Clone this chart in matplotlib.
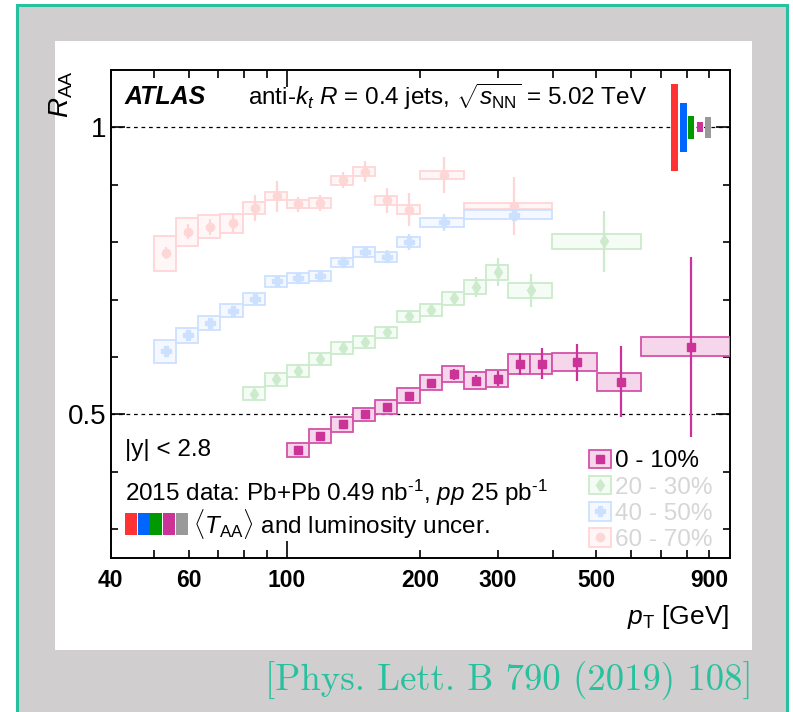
import numpy as np
import matplotlib
matplotlib.use('Agg')
import matplotlib.pyplot as plt
from matplotlib.patches import Rectangle, Patch
from matplotlib.lines import Line2D
from matplotlib.colors import to_rgb
from matplotlib.legend_handler import HandlerTuple

plt.rcParams['font.family'] = ['Liberation Sans', 'DejaVu Sans']
plt.rcParams['mathtext.fontset'] = 'custom'
plt.rcParams['mathtext.rm'] = 'Liberation Sans'
plt.rcParams['mathtext.it'] = 'Liberation Sans:italic'
plt.rcParams['mathtext.bf'] = 'Liberation Sans:bold'

# ---------------- data ----------------
# 0-10 %
pt_c0 = [106, 119, 134, 150, 168, 189, 212, 238, 267, 300, 337, 378, 452, 568, 818]
lo_c0 = [100, 112.2, 125.9, 141.3, 158.5, 177.8, 199.5, 223.9, 251.2, 281.8, 316.2, 354.8, 398.1, 501.2, 631.0]
hi_c0 = [112.2, 125.9, 141.3, 158.5, 177.8, 199.5, 223.9, 251.2, 281.8, 316.2, 354.8, 398.1, 501.2, 631.0, 1000]
raa_c0 = [0.438, 0.462, 0.483, 0.500, 0.513, 0.533, 0.555, 0.570, 0.559, 0.562, 0.588, 0.588, 0.591, 0.557, 0.618]
stat_c0 = [0.004, 0.004, 0.004, 0.005, 0.005, 0.005, 0.006, 0.010, 0.010, 0.013, 0.019, 0.027, 0.032, 0.062, 0.157]
sys_c0 = [0.012, 0.012, 0.013, 0.012, 0.012, 0.013, 0.013, 0.014, 0.015, 0.015, 0.017, 0.018, 0.016, 0.016, 0.017]

# 20-30 %
pt_c2 = [84.4, 94.6, 106, 119, 134, 150, 168, 189, 212, 238, 267, 300, 357, 520]
lo_c2 = [79.4, 89.1, 100, 112.2, 125.9, 141.3, 158.5, 177.8, 199.5, 223.9, 251.2, 281.8, 316.2, 398.1]
hi_c2 = [89.1, 100, 112.2, 125.9, 141.3, 158.5, 177.8, 199.5, 223.9, 251.2, 281.8, 316.2, 398.1, 631.0]
raa_c2 = [0.536, 0.561, 0.576, 0.597, 0.616, 0.626, 0.643, 0.671, 0.682, 0.702, 0.722, 0.748, 0.716, 0.802]
stat_c2 = [0.007, 0.007, 0.006, 0.006, 0.006, 0.006, 0.006, 0.007, 0.008, 0.010, 0.017, 0.025, 0.028, 0.053]
sys_c2 = [0.011, 0.011, 0.010, 0.010, 0.010, 0.010, 0.010, 0.010, 0.011, 0.011, 0.012, 0.013, 0.013, 0.013]

# 40-50 %
pt_c4 = [53.2, 59.8, 67.2, 75.4, 84.6, 95, 106, 119, 134, 150, 168, 189, 226, 326]
lo_c4 = [50.1, 56.2, 63.1, 70.8, 79.4, 89.1, 100, 112.2, 125.9, 141.3, 158.5, 177.8, 199.5, 251.2]
hi_c4 = [56.2, 63.1, 70.8, 79.4, 89.1, 100, 112.2, 125.9, 141.3, 158.5, 177.8, 199.5, 251.2, 398.1]
raa_c4 = [0.610, 0.638, 0.659, 0.681, 0.701, 0.732, 0.737, 0.742, 0.765, 0.783, 0.775, 0.800, 0.835, 0.848]
stat_c4 = [0.005, 0.005, 0.005, 0.006, 0.008, 0.010, 0.009, 0.009, 0.009, 0.010, 0.011, 0.014, 0.015, 0.006]
sys_c4 = [0.020, 0.013, 0.012, 0.011, 0.010, 0.0095, 0.0087, 0.0087, 0.0081, 0.0081, 0.0087, 0.0087, 0.0076, 0.0078]

# 60-70 %
pt_c6 = [53.2, 59.8, 67.2, 75.4, 84.6, 95, 106, 119, 134, 150, 168, 189, 226, 326]
lo_c6 = lo_c4
hi_c6 = hi_c4
raa_c6 = [0.781, 0.818, 0.827, 0.833, 0.860, 0.880, 0.866, 0.868, 0.908, 0.923, 0.873, 0.857, 0.917, 0.863]
stat_c6 = [0.010, 0.013, 0.014, 0.017, 0.023, 0.027, 0.013, 0.014, 0.014, 0.018, 0.022, 0.028, 0.032, 0.051]
sys_c6 = [0.0305, 0.024, 0.020, 0.0166, 0.010, 0.007, 0.0067, 0.0084, 0.0078, 0.0075, 0.008, 0.0075, 0.0064, 0.0046]

# <T_AA> and luminosity uncertainties (drawn at R_AA = 1)
unc_names = ['60 - 70%', '40 - 50%', '20 - 30%', '0 - 10%', 'lumi']
unc_xlo = [738, 773, 807, 845, 879]
unc_xhi = [765, 800, 833, 870, 910]
unc_half = [0.0755, 0.042, 0.0195, 0.0087, 0.018]

legend_labels = ['0 - 10%', '20 - 30%', '40 - 50%', '60 - 70%']
x_tick_labels = {40: '40', 60: '60', 200: '200', 300: '300', 500: '500', 900: '900'}

# ---------------- style ----------------
RED, BLUE, GREEN, MAG, GRAY = '#ff3333', '#0066ff', '#009900', '#cc3399', '#999999'
FS = 17.5


def fade(c, a):
    r = np.array(to_rgb(c))
    return tuple(1 - a * (1 - r))


fig = plt.figure(figsize=(7.93, 7.12), dpi=100)
fig.patch.set_facecolor('white')
fig.add_artist(Rectangle((17 / 793, -0.05), (787 - 17) / 793, 1.05 - 5 / 712,
                         transform=fig.transFigure, facecolor='#d0cece',
                         edgecolor='#27c19f', lw=2.2, zorder=0))
fig.add_artist(Rectangle((55 / 793, 1 - 650 / 712), 697 / 793, 609 / 712,
                         transform=fig.transFigure, facecolor='white',
                         edgecolor='none', zorder=0.5))

ax = fig.add_axes([110.7 / 793, 1 - 558 / 712, 618.8 / 793, 488 / 712])
ax.set_facecolor('white')
ax.set_zorder(1)
ax.set_xscale('log')


def draw(pt, lo, hi, val, stat, sys, color, marker, ms, faded, z):
    lo = np.array(lo); hi = np.array(hi)
    val = np.array(val); sys = np.array(sys)
    if faded:
        fc, ec, mc = fade(color, 0.04), fade(color, 0.2), fade(color, 0.2)
    else:
        fc, ec, mc = fade(color, 0.2), fade(color, 0.85), color
    ax.bar(lo, 2 * sys, width=hi - lo, bottom=val - sys, align='edge',
           facecolor=fc, edgecolor=ec, lw=1.3, zorder=z)
    ax.errorbar(pt, val, yerr=stat, fmt=marker, color=mc, ms=ms, mec=mc,
                elinewidth=1.6, capsize=0, zorder=z + 0.5)
    return fc, ec, mc


styles = {}
styles['60'] = draw(pt_c6, lo_c6, hi_c6, raa_c6, stat_c6, sys_c6, RED, 'o', 6, True, 2)
styles['40'] = draw(pt_c4, lo_c4, hi_c4, raa_c4, stat_c4, sys_c4, BLUE, 'P', 7, True, 3)
styles['20'] = draw(pt_c2, lo_c2, hi_c2, raa_c2, stat_c2, sys_c2, GREEN, 'd', 6, True, 4)
styles['0'] = draw(pt_c0, lo_c0, hi_c0, raa_c0, stat_c0, sys_c0, MAG, 's', 5.5, False, 5)

# uncertainty bars at unity
ucols = [RED, BLUE, GREEN, MAG, GRAY]
ax.bar(unc_xlo, 2 * np.array(unc_half), width=np.subtract(unc_xhi, unc_xlo),
       bottom=1 - np.array(unc_half), align='edge', color=ucols, zorder=6)

for yv in (1.0, 0.5):
    ax.axhline(yv, color='black', lw=0.9, ls=(0, (3, 3)), zorder=1)

ax.set_xlim(40, 1000)
ax.set_ylim(0.25, 1.1)

minor_x = [40, 50, 60, 70, 80, 90, 200, 300, 400, 500, 600, 700, 800, 900]
ax.set_xticks([100], labels=['100'], fontweight='bold', fontsize=16.5)
ax.set_xticks(minor_x, labels=[x_tick_labels.get(v, '') for v in minor_x],
              minor=True, fontweight='bold', fontsize=16.5)
ax.set_yticks([0.5, 1.0], labels=['0.5', '1'], fontsize=20)
ax.set_yticks([0.3, 0.4, 0.6, 0.7, 0.8, 0.9], minor=True)
ax.tick_params(axis='x', which='major', direction='in', length=12, width=1.2,
               top=True, pad=8)
ax.tick_params(axis='x', which='minor', direction='in', length=6, width=1.2,
               top=True, pad=8)
ax.tick_params(axis='y', which='major', direction='in', length=10, width=1.2,
               right=True, pad=3)
ax.tick_params(axis='y', which='minor', direction='in', length=5, width=1.2,
               right=True)
for s in ax.spines.values():
    s.set_linewidth(1.4)

ax.set_ylabel(r'$R_{\mathrm{AA}}$', fontsize=20, loc='top')
ax.yaxis.set_label_coords(-0.058, 1.0)
ax.set_xlabel(r'$p_{\mathrm{T}}$ [GeV]', fontsize=19, loc='right')
ax.xaxis.set_label_coords(1.0, -0.092)

# texts
ax.text(0.023, 0.945, 'ATLAS', transform=ax.transAxes, fontsize=18,
        fontweight='bold', fontstyle='italic', va='center', ha='left')
ax.text(0.222, 0.945, r'anti-$k_t$ $R$ = 0.4 jets, $\sqrt{s_{\mathrm{NN}}}$ = 5.02 TeV',
        transform=ax.transAxes, fontsize=FS, va='center', ha='left')
ax.text(0.023, 0.221, '|y| < 2.8', transform=ax.transAxes, fontsize=FS,
        va='center', ha='left')
ax.text(0.023, 0.133, r'2015 data: Pb+Pb 0.49 nb$^{\text{-1}}$, $pp$ 25 pb$^{\text{-1}}$',
        transform=ax.transAxes, fontsize=FS, va='center', ha='left')
for i, c in enumerate(ucols):
    ax.add_patch(Rectangle((0.0231 + i * 0.0205, 0.0471), 0.0195, 0.0445,
                           transform=ax.transAxes, facecolor=c, edgecolor='none',
                           zorder=7))
ax.text(0.133, 0.0697, r'$\langle T_{\mathrm{AA}}\rangle$ and luminosity uncer.',
        transform=ax.transAxes, fontsize=FS, va='center', ha='left')

# legend
handles = []
for key, mk, ms in (('0', 's', 5.5), ('20', 'd', 6), ('40', 'P', 7), ('60', 'o', 6)):
    fc, ec, mc = styles[key]
    handles.append((Patch(facecolor=fc, edgecolor=ec, lw=1.3),
                    Line2D([], [], marker=mk, color=mc, ls='none', ms=ms)))
leg = ax.legend(handles, legend_labels, loc='upper left',
                bbox_to_anchor=(0.773, 0.222), frameon=False, fontsize=FS,
                handler_map={tuple: HandlerTuple(ndivide=1)},
                handlelength=0.92, handleheight=0.8, handletextpad=0.15,
                labelspacing=0.14, borderpad=0, borderaxespad=0)
for t, c in zip(leg.get_texts(), ['black', '#d6d6d6', '#d6d6d6', '#d6d6d6']):
    t.set_color(c)
leg.set_zorder(8)

fig.text(753 / 793, 1 - 681 / 712, '[Phys. Lett. B 790 (2019) 108]',
         family=['cmr10', 'DejaVu Serif'], fontsize=26.5, color='#27c19f',
         ha='right', va='center')

fig.savefig('out.png', dpi=100)
